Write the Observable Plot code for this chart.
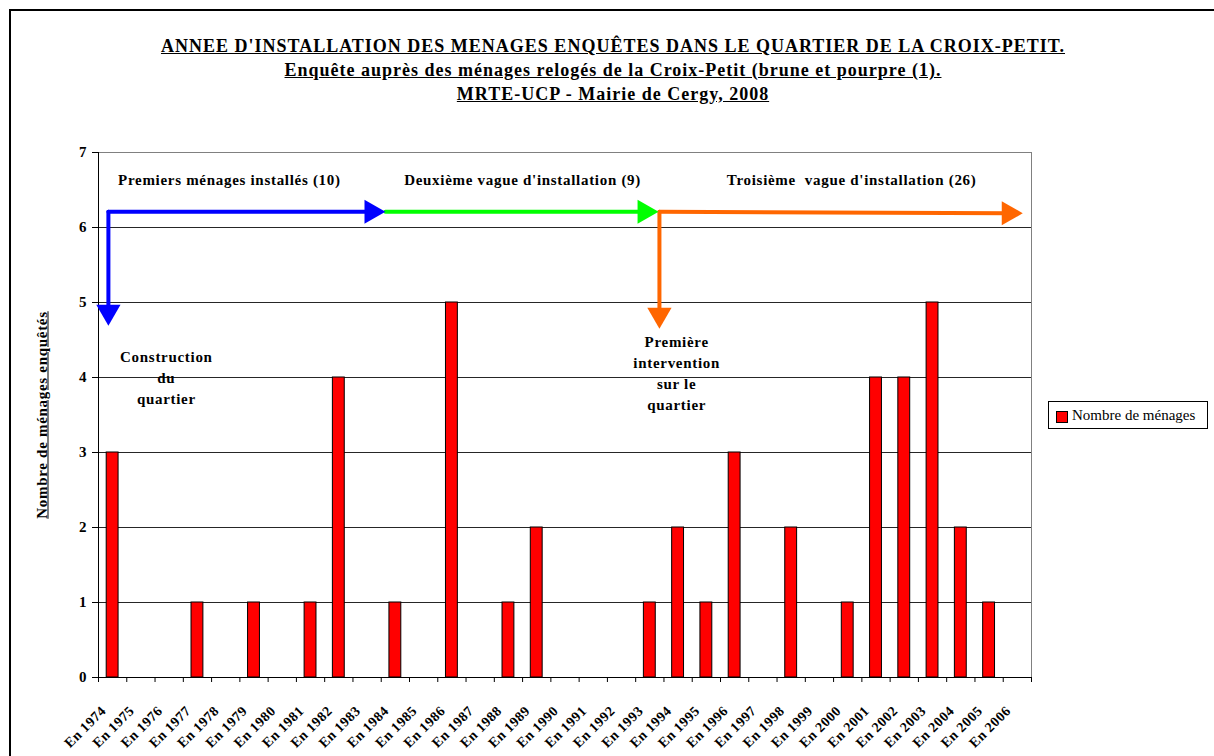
<!DOCTYPE html>
<html><head><meta charset="utf-8">
<script src="https://cdn.jsdelivr.net/npm/d3@7"></script>
<script src="https://cdn.jsdelivr.net/npm/@observablehq/plot@0.6"></script>
<style>
body{margin:0;background:#fff;overflow:hidden;font-family:"Liberation Serif","Times New Roman",serif;color:#000}
#wrap{position:relative;width:1214px;height:756px;overflow:hidden;background:#fff}
#frame{position:absolute;left:9px;top:9px;width:1230px;height:780px;border:2px solid #000;box-sizing:border-box}
#chart{position:absolute;left:0;top:0}
.t{position:absolute;left:0;width:1226px;text-align:center;font-weight:bold;text-decoration:underline;white-space:nowrap;line-height:1;font-size:18px;letter-spacing:1px}
#ylab{position:absolute;left:42px;top:415px;transform:translate(-50%,-50%) rotate(-90deg);font-weight:bold;text-decoration:underline;font-size:15px;letter-spacing:0.7px;white-space:nowrap}
#legend{position:absolute;left:1048px;top:401px;width:160px;height:28px;border:1px solid #000;box-sizing:border-box;background:#fff;font-size:15px;white-space:nowrap}
#legend .sw{position:absolute;left:7px;top:9px;width:10px;height:10px;background:#ff0000;border:1px solid #000}
#legend .lt{position:absolute;left:23px;top:5px}
svg [aria-label="y-axis tick label"], svg [aria-label="x-axis tick label"]{font-weight:bold}
svg [aria-label="x-axis tick label"] text{letter-spacing:0.5px}
svg [aria-label="text"] text{letter-spacing:0.7px}
</style></head>
<body>
<div id="wrap">
  <div id="frame"></div>
  <div id="chart"></div>
  <div class="t" style="top:37px">ANNEE D'INSTALLATION DES MENAGES ENQUÊTES DANS LE QUARTIER DE LA CROIX-PETIT.</div>
  <div class="t" style="top:61px">Enquête auprès des ménages relogés de la Croix-Petit (brune et pourpre (1).</div>
  <div class="t" style="top:85px">MRTE-UCP - Mairie de Cergy, 2008</div>
  <div id="ylab">Nombre de ménages enquêtés</div>
  <div id="legend"><div class="sw"></div><div class="lt">Nombre de ménages</div></div>
</div>
<script>
// Categories (years) and counts of households
const years = [1974,1975,1976,1977,1978,1979,1980,1981,1982,1983,1984,1985,1986,1987,1988,1989,1990,
               1991,1992,1993,1994,1995,1996,1997,1998,1999,2000,2001,2002,2003,2004,2005,2006];
const counts = [3,0,0,1,0,1,0,1,4,0,1,0,5,0,1,2,0,0,0,1,2,1,3,0,2,0,1,4,4,5,2,1,0];
const yTicks = [0,1,2,3,4,5,6,7];
const seriesName = "Nombre de ménages";

// Annotation arrows (data coordinates: year, count)
const arrowX1 = [1973.85, 1973.85, 1983.65, 1993.34, 1993.34];
const arrowY1 = [6.21, 6.21, 6.21, 6.21, 6.21];
const arrowX2 = [1983.65, 1973.85, 1993.31, 2006.19, 1993.34];
const arrowY2 = [6.21, 4.69, 6.21, 6.19, 4.65];
const arrowColor = ["#0000ff", "#0000ff", "#00ff00", "#ff6600", "#ff6600"];
const arrowDir = ["right", "down", "right", "right", "down"];

// Annotation texts
const noteText = ["Premiers ménages installés (10)", "Deuxième vague d'installation (9)",
                  "Troisième  vague d'installation (26)", "Construction\ndu\nquartier",
                  "Première\nintervention\nsur le\nquartier"];
const noteX = [1978.13, 1988.5, 2000.14, 1975.9, 1993.95];
const noteY = [6.65, 6.66, 6.65, 4.02, 4.08];

const rows = years.map((year, i) => ({year, label: "En " + year, n: counts[i]}));
const arrows = arrowX1.map((x1, i) => ({x1, y1: arrowY1[i], x2: arrowX2[i], y2: arrowY2[i], c: arrowColor[i], dir: arrowDir[i]}));
const notes = noteText.map((t, i) => ({t, x: noteX[i], y: noteY[i]}));
const bounds = years.map(y => y - 0.5).concat([years[years.length - 1] + 0.5]);

const font = "Liberation Serif, Times New Roman, serif";
const chart = Plot.plot({
  width: 1214, height: 756,
  marginLeft: 98, marginRight: 183, marginTop: 152, marginBottom: 79,
  x: {type: "linear", domain: [bounds[0], bounds[bounds.length - 1]]},
  y: {domain: [0, 7]},
  style: {fontFamily: font, background: "transparent", color: "#000", overflow: "visible"},
  marks: [
    Plot.frame({stroke: "#808080"}),
    Plot.ruleY(yTicks.filter(d => d > 0 && d < 7), {stroke: "#000", strokeOpacity: 0.85}),
    Plot.rectY(rows.filter(d => d.n > 0), {x1: d => d.year - 0.21, x2: d => d.year + 0.21, y1: 0, y2: "n", fill: "#ff0000", stroke: "#000", strokeWidth: 1}),
    Plot.ruleX([bounds[0]], {stroke: "#000"}),
    Plot.ruleY([0], {stroke: "#000"}),
    Plot.axisY({ticks: yTicks, tickSize: 6, tickPadding: 6, fontSize: 15, label: null, tickFormat: d => String(d)}),
    Plot.axisX({ticks: bounds, tickSize: 5, tickFormat: () => "", label: null}),
    Plot.axisX({ticks: years, tickSize: 0, tickPadding: 31, tickRotate: -45, dx: -9, fontSize: 14, label: null, tickFormat: d => "En " + d}),
    Plot.arrow(arrows, {x1: "x1", y1: "y1", x2: "x2", y2: "y2", stroke: "c", strokeWidth: 4, headLength: 0, insetEnd: 14}),
    Plot.dot(arrows.filter(d => d.dir === "right"), {x: "x2", y: "y2", fill: "c", symbol: "triangle", r: 9, rotate: 90, dx: -14}),
    Plot.dot(arrows.filter(d => d.dir === "down"), {x: "x2", y: "y2", fill: "c", symbol: "triangle", r: 9, rotate: 180, dy: -14}),
    Plot.text(notes, {x: "x", y: "y", text: "t", fontSize: 15, fontWeight: "bold", lineHeight: 1.4, lineAnchor: "middle", fill: "#000"})
  ]
});
document.getElementById("chart").appendChild(chart);
</script>
</body></html>
